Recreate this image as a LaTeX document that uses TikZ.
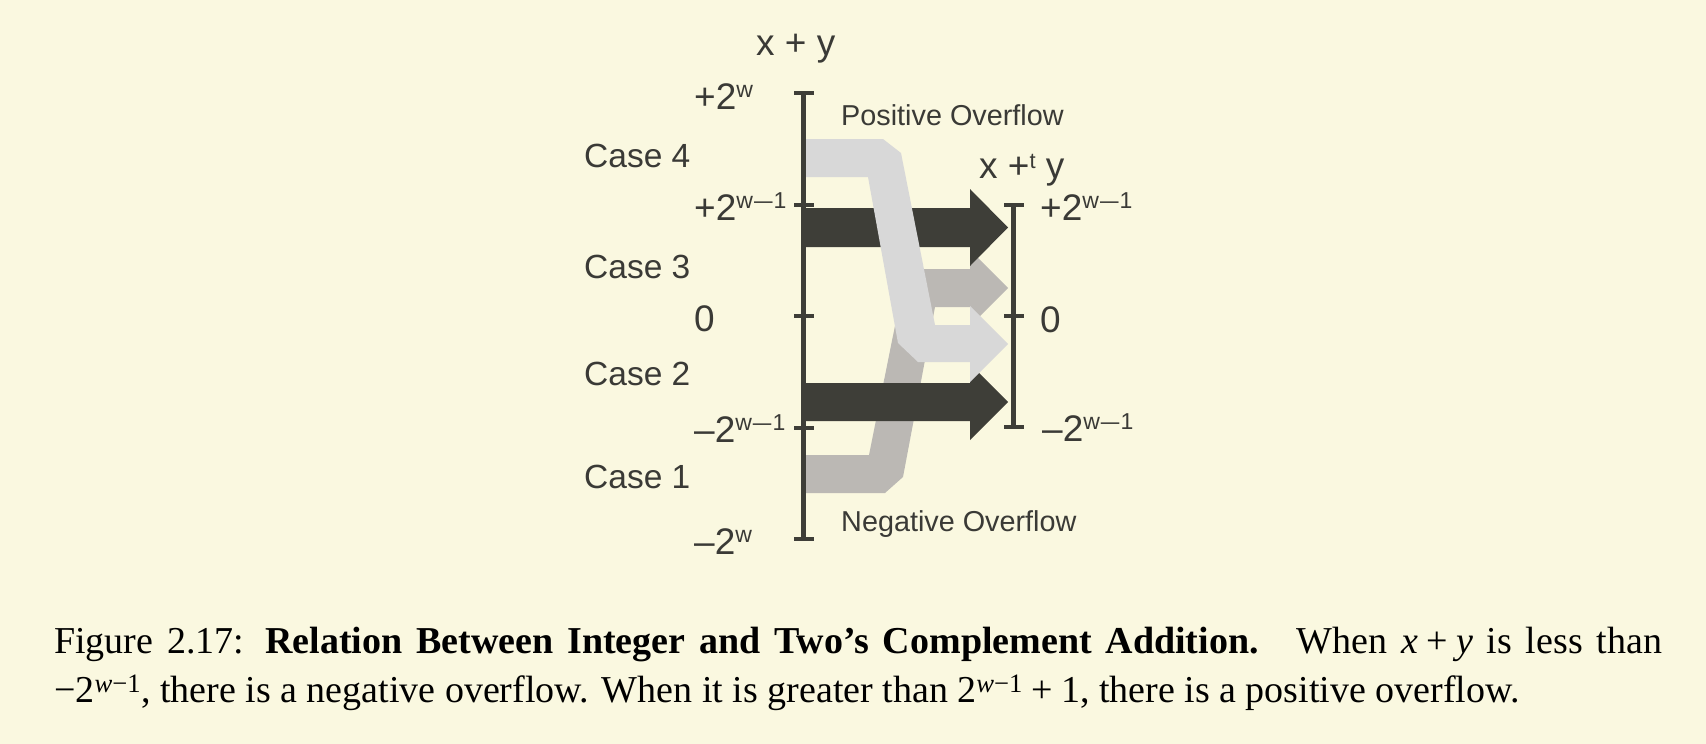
\documentclass[tikz,border=0pt]{standalone}
\usepackage{fontspec}
\setmainfont{Liberation Serif}
\newfontfamily\diagfont{Liberation Sans}
\definecolor{bgc}{RGB}{250,248,224}
\definecolor{darkc}{RGB}{62,62,56}
\definecolor{medc}{RGB}{187,184,180}
\definecolor{lightc}{RGB}{216,216,216}
\definecolor{txtc}{RGB}{58,58,54}
\newcommand{\supr}[1]{\raisebox{12pt}{\fontsize{23}{23}\selectfont #1}}
\newcommand{\supt}[1]{\raisebox{10pt}{\fontsize{22}{22}\selectfont #1}}
\newcommand{\sdash}{\hspace{1pt}\scalebox{1.45}[1]{–}\hspace{1pt}}
\newcommand{\mplus}{\hspace{0.22em}+\hspace{0.22em}}
\begin{document}
\begin{tikzpicture}[x=1pt,y=-1pt,
  lbl/.style={anchor=base west, inner sep=0, text=txtc, font=\diagfont\fontsize{37}{40}\selectfont},
  caselbl/.style={anchor=base west, inner sep=0, text=txtc, font=\diagfont\fontsize{33.5}{40}\selectfont},
  ovlbl/.style={anchor=base west, inner sep=0, text=txtc, font=\diagfont\fontsize{28.8}{34}\selectfont},
  axisline/.style={draw=darkc, line width=5pt},
  tickline/.style={draw=darkc, line width=4.3pt},
  darkarrow/.style={fill=darkc},
  medarrow/.style={fill=medc},
  lightarrow/.style={fill=lightc}]
\fill[bgc] (0,0) rectangle (1706,744);
\useasboundingbox (0,0) rectangle (1706,744);

% Case 1 -> wraps up (negative overflow)
\fill[medarrow] (803,455) -- (869,455) -- (903,286) -- (921,269) -- (970,269) -- (970,250)
  -- (1008,288) -- (970,326) -- (970,307) -- (935,307) -- (903,477) -- (885,493) -- (803,493) -- cycle;
% Case 2
\fill[darkarrow] (801,383) -- (970,383) -- (970,364) -- (1008,402) -- (970,440) -- (970,421) -- (801,421) -- cycle;
% Case 3
\fill[darkarrow] (801,208) -- (970,208) -- (970,189) -- (1008,227.5) -- (970,266) -- (970,247) -- (801,247) -- cycle;
% Case 4 -> wraps down (positive overflow)
\fill[lightarrow] (803,139) -- (883,139) -- (901,153) -- (935,325) -- (970,325) -- (970,306)
  -- (1008,344) -- (970,382) -- (970,362) -- (918,362) -- (898,343) -- (868,177) -- (803,177) -- cycle;

% left axis
\coordinate (ltop) at (803,93);
\coordinate (lbot) at (803,539);
\draw[axisline] (ltop) -- (lbot);
\foreach \yy in {93,205,316,428,539} \draw[tickline] (794,\yy) -- (814,\yy);
% right axis
\coordinate (rtop) at (1013,205);
\coordinate (rbot) at (1013,427);
\draw[axisline] (rtop) -- (rbot);
\foreach \yy in {205,316,427} \draw[tickline] (1004,\yy) -- (1024,\yy);

% labels
\node[lbl] (xy) at (756,55) {x + y};
\node[lbl] (xty) at (979,178) {x +\supt{t} y};
\node[ovlbl] (pos) at (841,125) {Positive Overflow};
\node[ovlbl] (neg) at (841,531) {Negative Overflow};

\node[caselbl] (c4) at (584,167) {Case 4};
\node[caselbl] (c3) at (584,278) {Case 3};
\node[caselbl] (c2) at (584,385) {Case 2};
\node[caselbl] (c1) at (584,488) {Case 1};

\node[lbl] (l1) at (694,109) {+2\supr{w}};
\node[lbl] (l2) at (694,220) {+2\supr{w\sdash 1}};
\node[lbl] (l3) at (694,331) {0};
\node[lbl] (l4) at (694,442) {–2\supr{w\sdash 1}};
\node[lbl] (l5) at (694,554) {–2\supr{w}};

\node[lbl] (r1) at (1040,220) {+2\supr{w\sdash 1}};
\node[lbl] (r2) at (1040,332) {0};
\node[lbl] (r3) at (1042,441) {–2\supr{w\sdash 1}};

% caption
\node[anchor=base west, inner sep=0] (cap) at (54,653) {\parbox[t]{1608pt}{\fontsize{38}{49}\selectfont
Figure 2.17: \textbf{Relation Between Integer and Two’s Complement Addition.}\quad When \textit{x}\mplus\textit{y} is less than −2\textsuperscript{\textit{w}−1}, there is a negative overflow. When it is greater than 2\textsuperscript{\textit{w}−1}\mplus 1, there is a positive overflow.}};
\end{tikzpicture}
\end{document}
